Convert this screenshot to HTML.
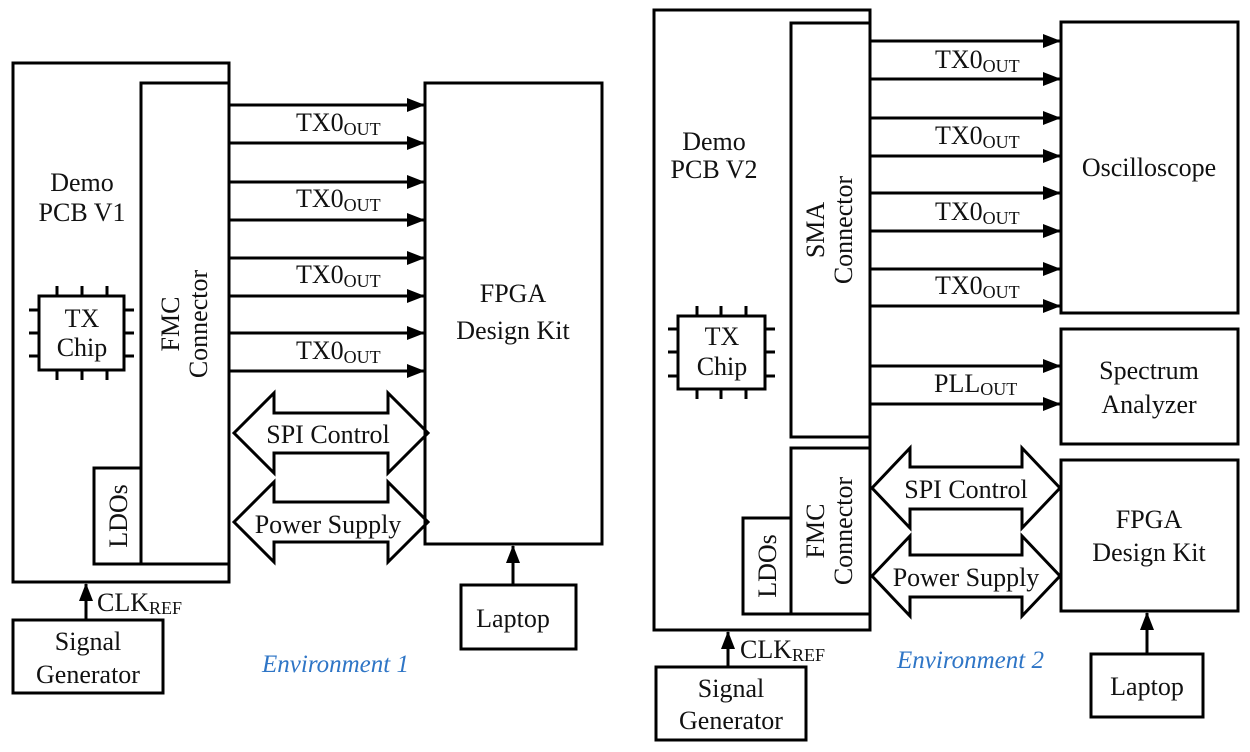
<!DOCTYPE html>
<html><head><style>body{margin:0;background:#fff}svg{display:block}svg text{font-family:"Liberation Serif","Times New Roman",serif;fill:#111}</style></head>
<body>
<svg width="1250" height="752" viewBox="0 0 1250 752" xmlns="http://www.w3.org/2000/svg" font-family="Liberation Serif, serif">
<defs>
<marker id="b" markerWidth="18" markerHeight="14" refX="17" refY="7" orient="auto" markerUnits="userSpaceOnUse"><path d="M0,0 L18,7 L0,14Z"/></marker></defs>
<g fill="none" stroke="#000" stroke-width="3">
<rect x="13" y="63" width="216" height="519" fill="#fff"/>
<rect x="141" y="83" width="88" height="481"/>
<rect x="94" y="468" width="47" height="96"/>
<rect x="39" y="296" width="85" height="74"/>
<path d="M57,286v10M82,286v10M107,286v10M57,370v10M82,370v10M107,370v10M29,310h10M29,333h10M29,356h10M124,310h10M124,333h10M124,356h10"/>
<rect x="425" y="83" width="177" height="461"/>
<rect x="461" y="585" width="115" height="64"/>
<rect x="13" y="620" width="150" height="73"/>
<g marker-end="url(#b)">
<line x1="229" y1="105" x2="424" y2="105"/><line x1="229" y1="143" x2="424" y2="143"/>
<line x1="229" y1="182" x2="424" y2="182"/><line x1="229" y1="220" x2="424" y2="220"/>
<line x1="229" y1="258" x2="424" y2="258"/><line x1="229" y1="296" x2="424" y2="296"/>
<line x1="229" y1="333" x2="424" y2="333"/><line x1="229" y1="371" x2="424" y2="371"/>
<line x1="86" y1="620" x2="86" y2="584"/><line x1="513" y1="585" x2="513" y2="546"/>
</g>
<path d="M234,433 L274,393 V413 H388 V393 L428,433 L388,473 V453 H274 V473Z"/>
<path d="M234,522 L274,482 V502 H388 V482 L428,522 L388,562 V542 H274 V562Z"/>
<rect x="654" y="10" width="216" height="620"/>
<rect x="791" y="23" width="79" height="414"/>
<rect x="791" y="448" width="79" height="166"/>
<rect x="743" y="518" width="48" height="96"/>
<rect x="678" y="316" width="87" height="73"/>
<path d="M697,306v10M721,306v10M746,306v10M697,389v10M721,389v10M746,389v10M668,329h10M668,352h10M668,376h10M765,329h10M765,352h10M765,376h10"/>
<rect x="1061" y="22" width="177" height="291"/>
<rect x="1061" y="329" width="177" height="115"/>
<rect x="1061" y="460" width="177" height="151"/>
<rect x="1091" y="654" width="112" height="63"/>
<rect x="656" y="667" width="150" height="73"/>
<g marker-end="url(#b)">
<line x1="870" y1="41" x2="1060" y2="41"/><line x1="870" y1="79" x2="1060" y2="79"/>
<line x1="870" y1="118" x2="1060" y2="118"/><line x1="870" y1="156" x2="1060" y2="156"/>
<line x1="870" y1="193" x2="1060" y2="193"/><line x1="870" y1="231" x2="1060" y2="231"/>
<line x1="870" y1="269" x2="1060" y2="269"/><line x1="870" y1="306" x2="1060" y2="306"/>
<line x1="870" y1="366" x2="1060" y2="366"/><line x1="870" y1="404" x2="1060" y2="404"/>
<line x1="728" y1="667" x2="728" y2="632"/><line x1="1147" y1="654" x2="1147" y2="613"/>
</g>
<path d="M872,488 L910,448 V467 H1022 V448 L1060,488 L1022,528 V509 H910 V528Z"/>
<path d="M872,576 L910,536 V555 H1022 V536 L1060,576 L1022,616 V597 H910 V616Z"/>
</g>
<g font-size="26" text-anchor="middle">
<text x="82" y="191">Demo</text><text x="82" y="221">PCB V1</text>
<text x="82" y="327">TX</text><text x="82" y="356">Chip</text>
<text transform="translate(183,324) rotate(-90)" y="-4">FMC</text>
<text transform="translate(183,324) rotate(-90)" y="24">Connector</text>
<text transform="translate(118,516) rotate(-90)" y="9">LDOs</text>
<text x="513" y="302">FPGA</text><text x="513" y="339">Design Kit</text>
<text x="328" y="443">SPI Control</text><text x="328" y="533">Power Supply</text>
<text x="513" y="627">Laptop</text>
<text x="88" y="650">Signal</text><text x="88" y="683">Generator</text>
<text x="714" y="150">Demo</text><text x="714" y="178">PCB V2</text>
<text x="722" y="345">TX</text><text x="722" y="375">Chip</text>
<text transform="translate(828,230) rotate(-90)" y="-4">SMA</text>
<text transform="translate(828,230) rotate(-90)" y="24">Connector</text>
<text transform="translate(828,531) rotate(-90)" y="-4">FMC</text>
<text transform="translate(828,531) rotate(-90)" y="24">Connector</text>
<text transform="translate(767,566) rotate(-90)" y="9">LDOs</text>
<text x="1149" y="176">Oscilloscope</text>
<text x="1149" y="379">Spectrum</text><text x="1149" y="413">Analyzer</text>
<text x="1149" y="528">FPGA</text><text x="1149" y="561">Design Kit</text>
<text x="966" y="498">SPI Control</text><text x="966" y="586">Power Supply</text>
<text x="1147" y="695">Laptop</text>
<text x="731" y="697">Signal</text><text x="731" y="729">Generator</text>
</g>
<g font-size="26">
<text x="296" y="131">TX0<tspan font-size="18" dy="4">OUT</tspan></text>
<text x="296" y="207">TX0<tspan font-size="18" dy="4">OUT</tspan></text>
<text x="296" y="283">TX0<tspan font-size="18" dy="4">OUT</tspan></text>
<text x="296" y="359">TX0<tspan font-size="18" dy="4">OUT</tspan></text>
<text x="935" y="68">TX0<tspan font-size="18" dy="4">OUT</tspan></text>
<text x="935" y="144">TX0<tspan font-size="18" dy="4">OUT</tspan></text>
<text x="935" y="220">TX0<tspan font-size="18" dy="4">OUT</tspan></text>
<text x="935" y="294">TX0<tspan font-size="18" dy="4">OUT</tspan></text>
<text x="934" y="392">PLL<tspan font-size="18" dy="3">OUT</tspan></text>
<text x="97" y="611">CLK<tspan font-size="18" dy="3">REF</tspan></text>
<text x="740" y="658">CLK<tspan font-size="18" dy="3">REF</tspan></text>
</g>
<g font-size="25" font-style="italic">
<text x="262" y="672" style="fill:#2e75c6">Environment 1</text>
<text x="897" y="668" style="fill:#2e75c6">Environment 2</text>
</g>
</svg>
</body></html>
